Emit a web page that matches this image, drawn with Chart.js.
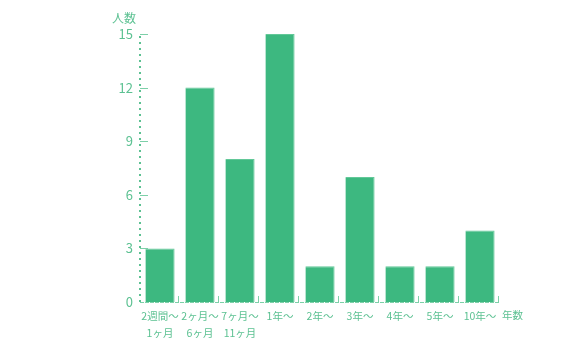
<!DOCTYPE html>
<html>
<head>
<meta charset="utf-8">
<script src="https://cdn.jsdelivr.net/npm/chart.js@4.4.0/dist/chart.umd.min.js"></script>
<style>
  html, body { margin: 0; padding: 0; background: #fff; }
  #wrap { width: 577px; height: 352px; }
</style>
</head>
<body>
<div id="wrap"><canvas id="chart"></canvas></div>
<script>
// datos del gráfico
const categorias = [
  ['2週間～', '1ヶ月'],
  ['2ヶ月～', '6ヶ月'],
  ['7ヶ月～', '11ヶ月'],
  '1年～', '2年～', '3年～', '4年～', '5年～', '10年～'
];
const personas = [3, 12, 8, 15, 2, 7, 2, 2, 4];
const ticksY = [0, 3, 6, 9, 12, 15];
const tituloY = '人数';
const tituloX = '年数';

const verde = '#3db880';
const verdeTexto = '#5cc192';
const verdeLinea = '#7dd0a8';
const fuente = '"Noto Sans CJK JP", "Noto Sans", sans-serif';

// ejes punteados, marcas cortas y títulos
const marcas = {
  id: 'marcas',
  afterDatasetsDraw(chart) {
    const { ctx, chartArea, scales: { x, y } } = chart;
    ctx.save();
    // eje Y punteado
    ctx.fillStyle = verdeTexto;
    for (let py = chartArea.top + 2; py <= chartArea.bottom - 2; py += 6) {
      ctx.fillRect(chartArea.left - 1, Math.round(py), 2, 2);
    }
    // eje X con guiones
    ctx.strokeStyle = verdeLinea;
    ctx.lineWidth = 1;
    ctx.setLineDash([4, 1]);
    ctx.beginPath();
    ctx.moveTo(chartArea.left, chartArea.bottom + 0.5);
    ctx.lineTo(chartArea.right, chartArea.bottom + 0.5);
    ctx.stroke();
    ctx.setLineDash([]);
    y.ticks.forEach((t, i) => {
      if (i === 0) return;
      const py = Math.round(y.getPixelForTick(i)) + 0.5;
      ctx.beginPath();
      ctx.moveTo(chartArea.left, py);
      ctx.lineTo(chartArea.left + 8, py);
      ctx.stroke();
    });
    const paso = (x.right - x.left) / categorias.length;
    for (let i = 1; i <= categorias.length; i++) {
      const px = Math.round(x.getPixelForValue(i - 1) + paso / 2) - 1.5;
      ctx.beginPath();
      ctx.moveTo(px, chartArea.bottom - 6);
      ctx.lineTo(px, chartArea.bottom);
      ctx.stroke();
    }
    ctx.fillStyle = verdeTexto;
    ctx.font = '12px ' + fuente;
    ctx.textAlign = 'right';
    ctx.textBaseline = 'middle';
    ctx.fillText(tituloY, chartArea.left - 4, chartArea.top - 16);
    ctx.textAlign = 'left';
    ctx.font = '10.5px ' + fuente;
    ctx.fillText(tituloX, chartArea.right + 2, chartArea.bottom + 13);
    ctx.restore();
  }
};

const ctx = document.getElementById('chart').getContext('2d');
const grafico = new Chart(ctx, {
  type: 'bar',
  data: {
    labels: categorias,
    datasets: [{
      data: personas,
      backgroundColor: verde,
      borderColor: '#62c898',
      borderWidth: { top: 1, right: 1, left: 0, bottom: 0 },
      barPercentage: 0.73,
      categoryPercentage: 1
    }]
  },
  options: {
    responsive: true,
    maintainAspectRatio: false,
    animation: false,
    layout: { padding: { top: 34, right: 77, left: 0, bottom: 0 } },
    plugins: { legend: { display: false }, tooltip: { enabled: false } },
    scales: {
      x: {
        grid: { display: false, drawTicks: false },
        border: { display: false },
        ticks: {
          color: verdeTexto,
          font: { family: fuente, size: 10.5, lineHeight: 1.6 },
          padding: 6,
          maxRotation: 0,
          autoSkip: false
        },
        afterFit(scale) { scale.height = 50; }
      },
      y: {
        min: 0,
        max: 15,
        afterBuildTicks(scale) { scale.ticks = ticksY.map(v => ({ value: v })); },
        grid: { display: false, drawTicks: false },
        border: { display: false },
        ticks: {
          color: verdeTexto,
          font: { family: fuente, size: 13 },
          padding: 7
        },
        afterFit(scale) { scale.width = 140; }
      }
    }
  },
  plugins: [marcas]
});
</script>
</body>
</html>
